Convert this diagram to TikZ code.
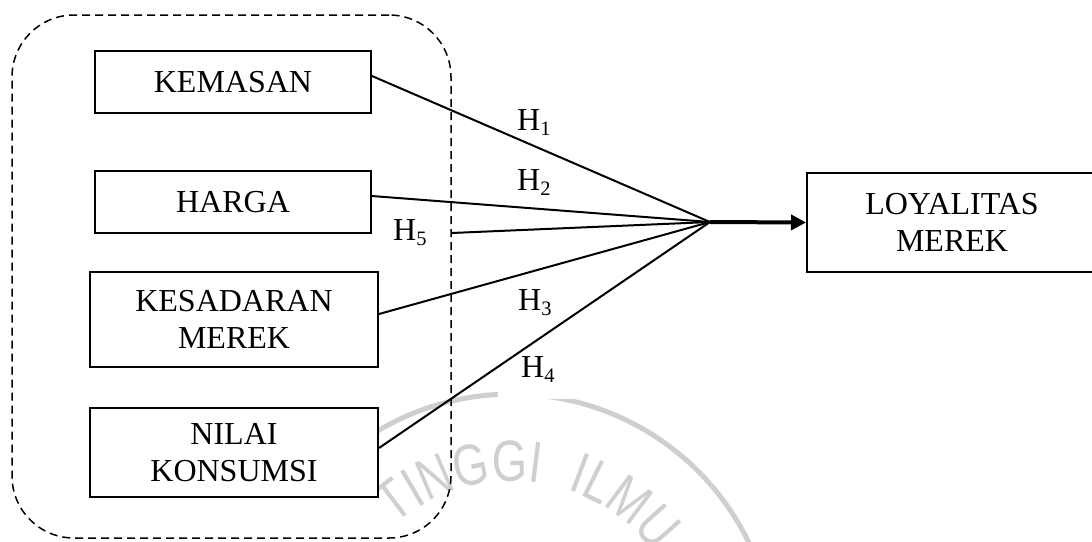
\documentclass[tikz,border=0pt]{standalone}
\usepackage{fontspec}
\setmainfont{Liberation Serif}
\newfontfamily\wmfont[FakeStretch=0.78]{Liberation Sans}
\usetikzlibrary{arrows.meta,decorations.text,calc}
% hypothesis label: H with a lowered index
\newcommand\hyp[1]{H\raisebox{-5pt}{\fontsize{20.5}{20.5}\selectfont #1}}

\begin{document}
\begin{tikzpicture}[x=1pt,y=-1pt,
  varbox/.style={draw, line width=2pt, fill=white, inner sep=0pt, align=center,
                 font=\fontsize{32}{37}\selectfont},
  link/.style={line width=2pt},
  hlabel/.style={anchor=base west, inner sep=0pt, font=\fontsize{32}{37}\selectfont},
  grpbox/.style={draw, dash pattern=on 8pt off 5pt, line width=1.5pt,
                 rounded corners=62pt, inner sep=0pt},
  stamp/.style={draw=black!19, line width=5pt}]

% page
\fill[white] (0,0) rectangle (1092,541);
\useasboundingbox (0,0) rectangle (1092,541);

% faint seal in the background
\coordinate (seal) at (512,657);
\draw[stamp] ([shift={(121:263pt)}]seal) arc[start angle=121, end angle=25, radius=263pt];
\path[decorate, decoration={text along path, text align=center,
      text={|\wmfont\fontsize{58}{58}\selectfont\color{black!19}|TINGGI {\hspace{16pt}}ILMU}}]
  ([shift={(134:176pt)}]seal) arc[start angle=134, end angle=34, radius=176pt];
\fill[white] (498,388) rectangle (573,399);

% grouping of the independent variables
\node[grpbox, minimum width=439pt, minimum height=523pt] (grp) at (231.5,276.5) {};

% variables
\node[varbox, minimum width=276pt, minimum height=62pt] (kem) at (233,82) {KEMASAN};
\node[varbox, minimum width=276pt, minimum height=62pt] (har) at (233,202) {HARGA};
\node[varbox, minimum width=288pt, minimum height=95pt] (kes) at (234,319.5) {KESADARAN\\MEREK};
\node[varbox, minimum width=288pt, minimum height=89pt] (nil) at (234,452.5) {NILAI\\KONSUMSI};
\node[varbox, minimum width=290pt, minimum height=99pt] (loy) at (952,222.5) {LOYALITAS\\MEREK};

% paths
\coordinate (hub) at (710,222);
\coordinate (h5s) at ([yshift=43.5pt]grp.east);
\draw[link] ([yshift=6pt]kem.east) -- (hub);
\draw[link] ([yshift=6pt]har.east) -- (hub);
\draw[link] (h5s) -- (hub);
\draw[link] ([yshift=5.5pt]kes.east) -- (hub);
\draw[link] ([yshift=4.5pt]nil.east) -- (hub);
\draw[line width=4pt, -{Triangle[length=15pt,width=15pt]}] (hub) -- (loy.west);

% hypothesis labels
\node[hlabel] (h1) at (517,130) {\hyp{1}};
\node[hlabel] (h2) at (517,190) {\hyp{2}};
\node[hlabel] (h5) at (393,240) {\hyp{5}};
\node[hlabel] (h3) at (518,310) {\hyp{3}};
\node[hlabel] (h4) at (521,377) {\hyp{4}};
\end{tikzpicture}
\end{document}
